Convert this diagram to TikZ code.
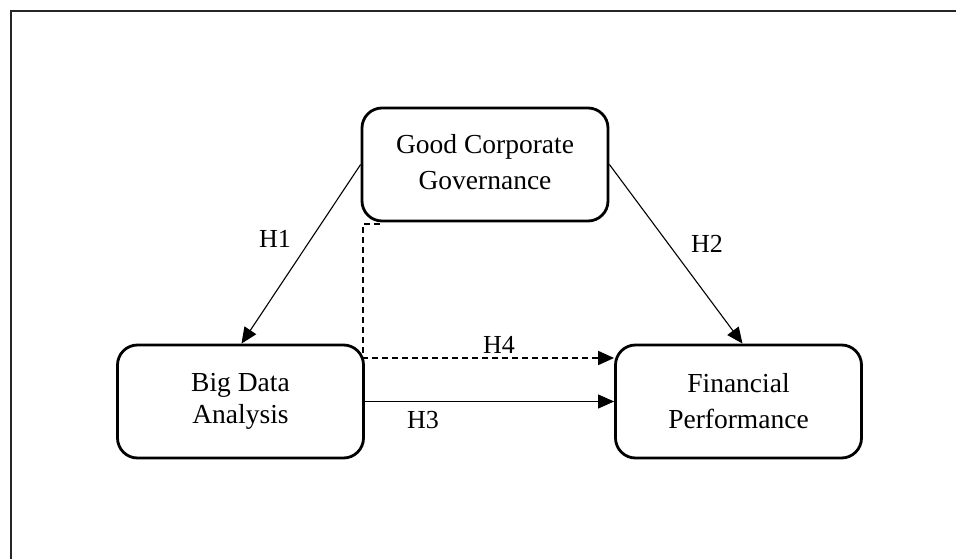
\documentclass[tikz,border=0pt]{standalone}
\usepackage{fontspec}
\setmainfont{Liberation Serif}
\usetikzlibrary{arrows.meta}
\begin{document}
\begin{tikzpicture}[x=1pt,y=-1pt,
  box/.style={draw,line width=2.8pt,rounded corners=20pt,minimum width=246pt,minimum height=113pt,inner sep=0pt,align=center},
  conn/.style={line width=1.1pt,-{Triangle[length=16pt,width=14pt]}},
  dconn/.style={conn,line width=1.7pt,dash pattern=on 6pt off 4pt},
  hlab/.style={font=\fontsize{26}{30}\selectfont,inner sep=0pt}]
\useasboundingbox (0,0) rectangle (956,559);
\clip (0,0) rectangle (956,559);
\draw[line width=2pt,black!85] (11,11) rectangle (1000,600);
\node[box,font=\fontsize{27.5}{36}\selectfont] (gcg) at (485,164.5)
  {\raisebox{7pt}{\begin{tabular}{@{}c@{}}Good Corporate\\Governance\end{tabular}}};
\node[box,font=\fontsize{27.5}{32}\selectfont] (bda) at (240.5,401.5) {Big Data\\Analysis};
\node[box,font=\fontsize{27.5}{36}\selectfont] (fp) at (738.5,401.5) {Financial\\Performance};
\draw[conn] (gcg.west) -- ([xshift=1pt]bda.north);
\draw[conn] (gcg.east) -- ([xshift=4pt]fp.north);
\draw[conn] (bda.east) -- (fp.west);
\coordinate (h4a) at (380,224);
\coordinate (h4b) at (363,224);
\coordinate (h4c) at (363,358);
\draw[dconn] (h4a) -- (h4b) -- (h4c) -- (fp.west |- h4c);
\node[hlab] (h1) at (275,239) {H1};
\node[hlab] (h2) at (707,244) {H2};
\node[hlab] (h3) at (423,420) {H3};
\node[hlab] (h4) at (499,345) {H4};
\end{tikzpicture}
\end{document}
